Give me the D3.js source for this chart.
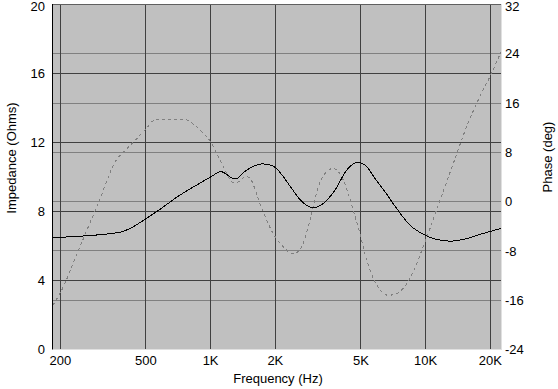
<!DOCTYPE html>
<html><head><meta charset="utf-8">
<script src="https://cdn.jsdelivr.net/npm/d3@7"></script>
<style>
html,body{margin:0;padding:0;background:#fff;}
svg{display:block;}
text{font-family:"Liberation Sans",Arial,sans-serif;font-size:13px;fill:#000;}
</style></head><body>
<svg id="c" width="558" height="389"></svg>
<script>
// ---- data ----
const freqTicks = [200, 500, 1000, 2000, 5000, 10000, 20000];
const freqTickLabels = ["200", "500", "1K", "2K", "5K", "10K", "20K"];
const ohmTicks = [0, 4, 8, 12, 16, 20];
const phaseTicks = [-24, -16, -8, 0, 8, 16, 24, 32];

const impFreq = [185, 200, 372, 551, 720, 860, 1000, 1117, 1298, 1470, 1600, 1727, 1888, 2000, 2177, 2381, 2603, 2800, 3022, 3342, 3787, 4293, 4600, 4860, 5318, 5810, 6468, 7199, 8452, 9930, 11250, 12970, 14960, 18530, 22400];
const impOhms = [6.47, 6.5, 6.78, 7.93, 8.95, 9.53, 10.0, 10.31, 9.88, 10.4, 10.65, 10.76, 10.7, 10.55, 10.02, 9.34, 8.70, 8.35, 8.21, 8.47, 9.24, 10.4, 10.75, 10.85, 10.6, 9.92, 9.15, 8.31, 7.21, 6.63, 6.38, 6.28, 6.38, 6.73, 7.02];

const phaseFreq = [185, 200, 247, 300, 365, 400, 450, 495, 561, 746, 850, 924, 1000, 1105, 1298, 1470, 1523, 1695, 1955, 2177, 2422, 2650, 2897, 3166, 3466, 3716, 4138, 4605, 4946, 5318, 5810, 6700, 7350, 8345, 9750, 11450, 13440, 15520, 17560, 20270, 22400];
const phaseDeg = [-16.8, -14.8, -7.3, -0.3, 6.8, 8.3, 10.1, 11.65, 13.4, 13.4, 12.3, 11.1, 9.75, 6.8, 2.97, 4.05, 3.8, -0.3, -5.2, -7.3, -8.5, -7.3, -3.0, 2.42, 4.86, 5.4, 3.5, -1.4, -5.2, -9.5, -13.0, -15.2, -14.9, -12.8, -7.3, -0.56, 6.2, 12.2, 16.5, 20.9, 24.3];

// ---- layout ----
const L = 53, R = 501, T = 4.5, B = 349.5;
const svg = d3.select("#c");
const x = d3.scaleLog().domain([185, 22400]).range([L, R]);
const yL = d3.scaleLinear().domain([0, 20]).range([B, T]);
const yR = d3.scaleLinear().domain([-24, 32]).range([B, T]);
const crisp = v => Math.round(v - 0.5) + 0.5;

svg.append("rect").attr("x", L).attr("y", T).attr("width", R - L).attr("height", B - T).attr("fill", "#c0c0c0");

svg.append("clipPath").attr("id", "pc").append("rect")
  .attr("x", L).attr("y", T).attr("width", R - L).attr("height", B - T);

// phase gridlines (lighter)
svg.append("g").selectAll("line").data(phaseTicks.filter(d => d > -24 && d < 32)).join("line")
  .attr("x1", L).attr("x2", R)
  .attr("y1", d => crisp(yR(d))).attr("y2", d => crisp(yR(d)))
  .attr("stroke", "#808080").attr("stroke-width", 1);
// impedance gridlines (dark)
svg.append("g").selectAll("line").data(ohmTicks.filter(d => d > 0 && d < 20)).join("line")
  .attr("x1", L).attr("x2", R)
  .attr("y1", d => crisp(yL(d))).attr("y2", d => crisp(yL(d)))
  .attr("stroke", "#404040").attr("stroke-width", 1);
// frequency gridlines
svg.append("g").selectAll("line").data(freqTicks).join("line")
  .attr("x1", d => crisp(x(d))).attr("x2", d => crisp(x(d)))
  .attr("y1", T).attr("y2", B)
  .attr("stroke", "#404040").attr("stroke-width", 1);

// curves
const plot = svg.append("g").attr("clip-path", "url(#pc)");
const phasePts = phaseFreq.map((f, i) => [f, phaseDeg[i]]);
const impPts = impFreq.map((f, i) => [f, impOhms[i]]);
plot.append("path").datum(phasePts)
  .attr("d", d3.line().x(d => x(d[0])).y(d => yR(d[1])).curve(d3.curveMonotoneX))
  .attr("fill", "none").attr("stroke", "#808080").attr("stroke-width", 1).attr("stroke-dasharray", "3,3")
  .attr("shape-rendering", "crispEdges");
plot.append("path").datum(impPts)
  .attr("d", d3.line().x(d => x(d[0])).y(d => yL(d[1])).curve(d3.curveMonotoneX))
  .attr("fill", "none").attr("stroke", "#000").attr("stroke-width", 1)
  .attr("shape-rendering", "crispEdges");

// border (sunken look)
svg.append("line").attr("x1", L).attr("x2", R).attr("y1", 4.5).attr("y2", 4.5).attr("stroke", "#606060");
svg.append("line").attr("x1", L - 0.5).attr("x2", L - 0.5).attr("y1", 4).attr("y2", B).attr("stroke", "#000");
svg.append("line").attr("x1", L).attr("x2", R).attr("y1", B).attr("y2", B).attr("stroke", "#e0e0e0");
svg.append("line").attr("x1", R + 0.5).attr("x2", R + 0.5).attr("y1", 4).attr("y2", B + 0.5).attr("stroke", "#e0e0e0");

// left axis labels
svg.append("g").selectAll("text").data(ohmTicks).join("text")
  .attr("x", 45).attr("y", d => Math.max(yL(d), 6.5)).attr("dy", "0.36em")
  .attr("text-anchor", "end").text(d => d);
// right axis labels
svg.append("g").selectAll("text").data(phaseTicks).join("text")
  .attr("x", 505).attr("y", d => Math.max(yR(d), 6.5)).attr("dy", "0.36em")
  .attr("text-anchor", "start").text(d => d);
// bottom axis labels
svg.append("g").selectAll("text").data(freqTicks).join("text")
  .attr("x", d => x(d)).attr("y", 365)
  .attr("text-anchor", "middle").text((d, i) => freqTickLabels[i]);

// titles
svg.append("text").attr("x", 278).attr("y", 383).attr("text-anchor", "middle").text("Frequency (Hz)");
svg.append("text").attr("transform", "translate(16,158) rotate(-90)").attr("text-anchor", "middle").text("Impedance (Ohms)");
svg.append("text").attr("transform", "translate(552,157) rotate(-90)").attr("text-anchor", "middle").text("Phase (deg)");
</script>
</body></html>
